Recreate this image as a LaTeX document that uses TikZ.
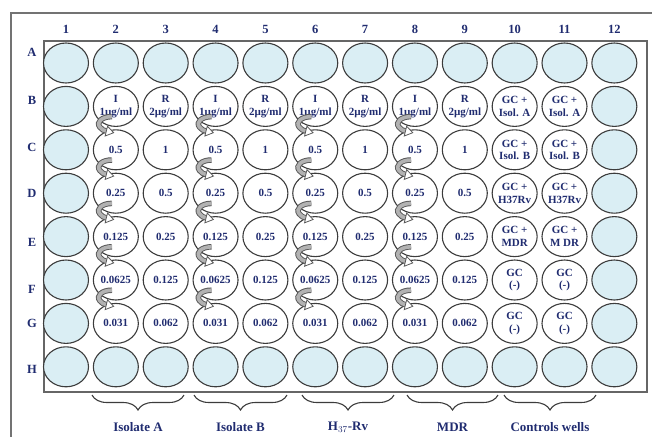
\documentclass[tikz,border=0pt]{standalone}
\usepackage{fontspec}
\setmainfont{Liberation Serif}
\usetikzlibrary{calc,shapes.geometric,decorations.pathreplacing}
\definecolor{navy}{RGB}{32,44,112}
\definecolor{wellblue}{RGB}{218,238,244}
\definecolor{edgegray}{RGB}{60,60,60}
\begin{document}
\begin{tikzpicture}[x=1pt,y=-1pt,
  well/.style={ellipse,draw=edgegray,line width=1.1pt,minimum width=45pt,minimum height=40pt,inner sep=0pt},
  wtext/.style={text=navy,font=\bfseries\fontsize{11}{12.5}\selectfont,align=center,inner sep=0pt},
  hdr/.style={text=navy,font=\bfseries\fontsize{12.5}{14}\selectfont,inner sep=0pt},
  grp/.style={text=navy,font=\bfseries\fontsize{13}{15}\selectfont,inner sep=0pt},
  grpbrace/.style={decorate,decoration={brace,mirror,amplitude=15pt},draw=edgegray,line width=1.1pt},
  serial/.pic={
    \draw[line width=5.5pt,draw=black!65] (7,-8.5) .. controls (-3,-8.5) and (-9,-3) .. (-5,2) .. controls (-3,4.5) and (-1,5.5) .. (1.5,6);
    \draw[line width=3.6pt,draw=black!30] (7.3,-8.5) .. controls (-3,-8.5) and (-9,-3) .. (-5,2) .. controls (-3,4.5) and (-1,5.5) .. (1.7,6);
    \draw[fill=white,draw=black!65,line width=0.8pt] (2.7,1.1) -- (8.8,7.6) -- (0.3,10.9) -- cycle;
  }]
\useasboundingbox (0,0) rectangle (652,437);
% outer frame
\coordinate (fo) at (11,13);
\coordinate (fr) at (652,13);
\coordinate (fb) at (11,437);
\draw[draw=black!55,line width=1.4pt] (fr) -- (fo) -- (fb);
% plate
\node[draw=black!60,line width=1.6pt,minimum width=603pt,minimum height=351pt,inner sep=0pt,anchor=north west] (plate) at (43,40) {};
% wells
\foreach \c in {1,...,12} {
  \foreach \r in {1,...,8} {
    \pgfmathtruncatemacro\edgewell{(\c==1)||(\c==12)||(\r==1)||(\r==8)}
    \ifnum\edgewell=1 \def\fc{wellblue}\else\def\fc{white}\fi
    \node[well,fill=\fc] (w-\c-\r) at ({66+(\c-1)*49.85},{63+(\r-1)*43.4}) {};
  }
  \node[hdr] (col\c) at ({66+(\c-1)*49.85},29) {\c};
}
% row labels
\foreach \l/\y in {A/52,B/100,C/147,D/193,E/242,F/289,G/323,H/369} {
  \node[hdr] (row\l) at (32,\y) {\l};
}
% dilution series
\foreach \c in {2,4,6,8} {
  \pgfmathtruncatemacro\d{\c+1}
  \node[wtext] at (w-\c-2) {I\\1µg/ml};
  \node[wtext] at (w-\d-2) {R\\2µg/ml};
  \foreach \r/\a/\b in {3/0.5/1,4/0.25/0.5,5/0.125/0.25,6/0.0625/0.125,7/0.031/0.062} {
    \node[wtext] at (w-\c-\r) {\a};
    \node[wtext] at (w-\d-\r) {\b};
  }
  \foreach \r in {2,...,6} {
    \pgfmathtruncatemacro\s{\r+1}
    \pic at ($(w-\c-\r)!0.5!(w-\c-\s)+(-11,-3)$) {serial};
  }
}
% controls
\node[wtext] at (w-10-2) {GC +\\Isol. A};
\node[wtext] at (w-11-2) {GC +\\Isol. A};
\node[wtext] at (w-10-3) {GC +\\Isol. B};
\node[wtext] at (w-11-3) {GC +\\Isol. B};
\node[wtext] at (w-10-4) {GC +\\H37Rv};
\node[wtext] at (w-11-4) {GC +\\H37Rv};
\node[wtext] at (w-10-5) {GC +\\MDR};
\node[wtext] at (w-11-5) {GC +\\M DR};
\node[wtext] at (w-10-6) {GC\\(-)};
\node[wtext] at (w-11-6) {GC\\(-)};
\node[wtext] at (w-10-7) {GC\\(-)};
\node[wtext] at (w-11-7) {GC\\(-)};
% braces and group labels
\foreach \i/\xa/\xb/\t in {1/92/184/Isolate A,2/194/287/Isolate B,3/302/394/{H$_{37}$-Rv},4/407/498/MDR,5/504/596/Controls wells} {
  \coordinate (bl\i) at (\xa,395);
  \coordinate (br\i) at (\xb,395);
  \draw[grpbrace] (bl\i) -- (br\i);
  \node[grp] (g\i) at ($(bl\i)!0.5!(br\i)+(0,32)$) {\t};
}
\end{tikzpicture}
\end{document}
